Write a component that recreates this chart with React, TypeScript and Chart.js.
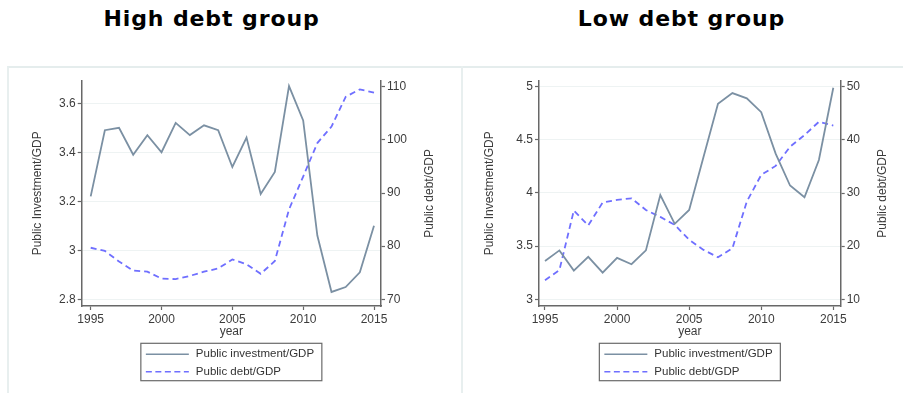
import React, { useEffect, useRef } from 'react';
import { Chart, registerables } from 'chart.js';

Chart.register(...registerables);

// ---------- data ----------
const years = [1995, 1996, 1997, 1998, 1999, 2000, 2001, 2002, 2003, 2004, 2005, 2006, 2007, 2008, 2009, 2010, 2011, 2012, 2013, 2014, 2015];
const xTicks = [1995, 2000, 2005, 2010, 2015];

const highInvestment = [3.22, 3.49, 3.50, 3.39, 3.47, 3.40, 3.52, 3.47, 3.51, 3.49, 3.34, 3.46, 3.23, 3.32, 3.67, 3.53, 3.06, 2.83, 2.85, 2.91, 3.10];
const highDebt = [79.7, 79.1, 77.1, 75.4, 75.2, 73.9, 73.8, 74.4, 75.2, 75.8, 77.5, 76.6, 74.8, 77.2, 86.9, 93.1, 99.4, 102.5, 108.1, 109.5, 108.9];
const lowInvestment = [3.36, 3.46, 3.27, 3.40, 3.25, 3.39, 3.33, 3.46, 3.98, 3.71, 3.84, 4.34, 4.84, 4.94, 4.89, 4.76, 4.37, 4.07, 3.96, 4.31, 4.99];
const lowDebt = [13.6, 15.5, 26.7, 23.9, 28.2, 28.7, 29.0, 26.8, 25.5, 24.0, 21.2, 19.3, 17.9, 19.6, 28.4, 33.4, 35.1, 38.7, 40.9, 43.4, 42.7];

const highInvestTicks = [2.8, 3, 3.2, 3.4, 3.6];
const highDebtTicks = [70, 80, 90, 100, 110];
const lowInvestTicks = [3, 3.5, 4, 4.5, 5];
const lowDebtTicks = [10, 20, 30, 40, 50];

const seriesLabels = ['Public investment/GDP', 'Public debt/GDP'];
const leftAxisTitle = 'Public Investment/GDP';
const rightAxisTitle = 'Public debt/GDP';
const xAxisTitle = 'year';
const panelTitles = ['High debt group', 'Low debt group'];

// ---------- styles ----------
const FONT = '"Liberation Sans", Arial, sans-serif';
const INV_COLOR = '#7b90a3';
const DEBT_COLOR = '#6f6fff';
const AXIS_COLOR = '#686868';
const TEXT_COLOR = '#3c3c3c';
const GRID_COLOR = '#eef3f3';

type PanelProps = {
  left: number;
  width: number;
  invest: number[];
  debt: number[];
  investTicks: number[];
  debtTicks: number[];
  xMin: number; xMax: number;
  yMin: number; yMax: number;
  y1Min: number; y1Max: number;
  leftW: number; rightW: number;
  leftTitleX: number; rightTitleX: number;
};

const TOP = 80.7;
const XAXIS_H = 87;
const H = 393;

function Panel(p: PanelProps) {
  const ref = useRef<HTMLCanvasElement | null>(null);
  useEffect(() => {
    if (!ref.current) return;
    const decor = {
      id: 'decor',
      afterDraw(chart: any) {
        const ctx = chart.ctx;
        const a = chart.chartArea;
        ctx.save();
        ctx.fillStyle = TEXT_COLOR;
        ctx.font = `12px ${FONT}`;
        ctx.textAlign = 'center';
        ctx.textBaseline = 'middle';
        const cy = (a.top + a.bottom) / 2;
        ([[p.leftTitleX, leftAxisTitle], [p.rightTitleX, rightAxisTitle]] as [number, string][]).forEach(([x, t]) => {
          ctx.save();
          ctx.translate(x, cy);
          ctx.rotate(-Math.PI / 2);
          ctx.fillText(t, 0, 0);
          ctx.restore();
        });
        const cx = (a.left + a.right) / 2;
        ctx.fillText(xAxisTitle, cx, 331.7);
        // legend
        const w = 181, h = 37.4;
        const lx = cx - w / 2, ly = 343.3;
        ctx.strokeStyle = '#6a6a6a';
        ctx.lineWidth = 1.2;
        ctx.strokeRect(lx, ly, w, h);
        chart.data.datasets.forEach((ds: any, i: number) => {
          const y = ly + 11 + i * 17.4;
          ctx.save();
          ctx.strokeStyle = ds.borderColor;
          ctx.lineWidth = 1.5;
          ctx.setLineDash(ds.borderDash ? [6, 3.5] : []);
          ctx.beginPath();
          ctx.moveTo(lx + 5, y);
          ctx.lineTo(lx + 48, y);
          ctx.stroke();
          ctx.restore();
          ctx.textAlign = 'left';
          ctx.fillStyle = '#333';
          ctx.font = `11.5px ${FONT}`;
          ctx.fillText(ds.label, lx + 55, y);
        });
        ctx.restore();
      },
    };
    const tickFont = { family: FONT, size: 12 };
    const fmt = (v: any) => String(v);
    const chart = new Chart(ref.current, {
      type: 'line',
      data: {
        datasets: [
          {
            label: seriesLabels[0],
            data: years.map((y, i) => ({ x: y, y: p.invest[i] })),
            yAxisID: 'y',
            borderColor: INV_COLOR,
            borderWidth: 1.8,
            pointRadius: 0,
            tension: 0,
            fill: false,
          },
          {
            label: seriesLabels[1],
            data: years.map((y, i) => ({ x: y, y: p.debt[i] })),
            yAxisID: 'y1',
            borderColor: DEBT_COLOR,
            borderDash: [6, 4],
            borderWidth: 1.8,
            pointRadius: 0,
            tension: 0,
            fill: false,
          },
        ],
      },
      options: {
        responsive: false,
        animation: false,
        events: [],
        layout: { padding: { top: TOP, left: 0, right: 0, bottom: 0 } },
        plugins: { legend: { display: false }, tooltip: { enabled: false }, title: { display: false } },
        scales: {
          x: {
            type: 'linear',
            min: p.xMin,
            max: p.xMax,
            afterBuildTicks: (s: any) => { s.ticks = xTicks.map((v) => ({ value: v })); },
            afterFit: (s: any) => { s.height = XAXIS_H; },
            grid: { drawOnChartArea: false, drawTicks: true, tickLength: 4, tickColor: AXIS_COLOR, tickWidth: 1.2 },
            border: { color: AXIS_COLOR, width: 1.5 },
            ticks: { color: TEXT_COLOR, font: tickFont, padding: 2, maxRotation: 0, autoSkip: false, callback: fmt },
          },
          y: {
            type: 'linear',
            position: 'left',
            min: p.yMin,
            max: p.yMax,
            afterBuildTicks: (s: any) => { s.ticks = p.investTicks.map((v) => ({ value: v })); },
            afterFit: (s: any) => { s.width = p.leftW; },
            grid: { drawOnChartArea: true, color: GRID_COLOR, lineWidth: 1, drawTicks: true, tickLength: 4, tickColor: AXIS_COLOR, tickWidth: 1.2 },
            border: { color: AXIS_COLOR, width: 1.5 },
            ticks: { color: TEXT_COLOR, font: tickFont, padding: 2, autoSkip: false, callback: fmt },
          },
          y1: {
            type: 'linear',
            position: 'right',
            min: p.y1Min,
            max: p.y1Max,
            afterBuildTicks: (s: any) => { s.ticks = p.debtTicks.map((v) => ({ value: v })); },
            afterFit: (s: any) => { s.width = p.rightW; },
            grid: { drawOnChartArea: false, drawTicks: true, tickLength: 4, tickColor: AXIS_COLOR, tickWidth: 1.2 },
            border: { color: AXIS_COLOR, width: 1.5 },
            ticks: { color: TEXT_COLOR, font: tickFont, padding: 2, autoSkip: false, callback: fmt },
          },
        },
      } as any,
      plugins: [decor],
    });
    return () => chart.destroy();
  }, []);
  return (
    <canvas
      ref={ref}
      width={p.width}
      height={H}
      style={{ position: 'absolute', left: p.left, top: 0, width: p.width, height: H }}
    />
  );
}

const titleStyle: React.CSSProperties = {
  position: 'absolute',
  top: 8,
  width: 300,
  textAlign: 'center',
  fontFamily: '"DejaVu Sans", Verdana, sans-serif',
  fontWeight: 'bold',
  fontSize: 22,
  lineHeight: '22px',
  letterSpacing: '0.9px',
  color: '#000',
  whiteSpace: 'nowrap',
};

export default function App() {
  return (
    <div style={{ position: 'absolute', left: 0, top: 0, width: 903, height: 393, background: '#fff', overflow: 'hidden' }}>
      <div style={{ position: 'absolute', left: 7, top: 66, width: 896, height: 327, borderTop: '2px solid #e5eded', borderLeft: '2px solid #e8efef', boxSizing: 'border-box' }} />
      <div style={{ position: 'absolute', left: 460.5, top: 66, width: 2, height: 327, background: '#e8efef' }} />
      <div style={{ ...titleStyle, left: 211.5 - 150 }}>{panelTitles[0]}</div>
      <div style={{ ...titleStyle, left: 681.5 - 150 }}>{panelTitles[1]}</div>
      <Panel
        left={0}
        width={451}
        invest={highInvestment}
        debt={highDebt}
        investTicks={highInvestTicks}
        debtTicks={highDebtTicks}
        xMin={1994.365}
        xMax={2015.494}
        yMin={2.7727}
        yMax={3.692}
        y1Min={68.74}
        y1Max={111.13}
        leftW={81.7}
        rightW={70}
        leftTitleX={38}
        rightTitleX={430}
      />
      <Panel
        left={451}
        width={452}
        invest={lowInvestment}
        debt={lowDebt}
        investTicks={lowInvestTicks}
        debtTicks={lowDebtTicks}
        xMin={1994.584}
        xMax={2015.513}
        yMin={2.937}
        yMax={5.056}
        y1Min={8.74}
        y1Max={51.13}
        leftW={88}
        rightW={62.3}
        leftTitleX={39}
        rightTitleX={432}
      />
    </div>
  );
}
